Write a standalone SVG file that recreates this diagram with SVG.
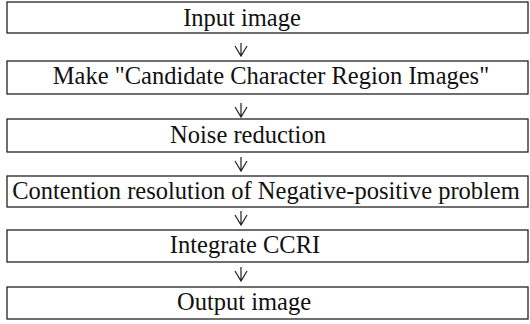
<svg xmlns="http://www.w3.org/2000/svg" width="530" height="324" viewBox="0 0 530 324">
<style>
.box{fill:#fff;stroke:#222;stroke-width:1.3}
.arr{fill:none;stroke:#222;stroke-width:1.2}
text{font-family:"Liberation Serif",serif;font-size:24.5px;fill:#111;text-anchor:middle}
</style>
<rect width="530" height="324" fill="#fff"/>
<g id="connectors">
<path class="arr" d="M241,43V56M235,46L241,56L247,46"/>
<path class="arr" d="M241,103V117M235,107L241,117L247,107"/>
<path class="arr" d="M241,157V171M235,161L241,171L247,161"/>
<path class="arr" d="M241,211V225M235,215L241,225L247,215"/>
<path class="arr" d="M241,267V281M235,271L241,281L247,271"/>
</g>
<g id="n1"><rect class="box" x="7" y="2" width="521" height="31"/><text x="242" y="26">Input image</text></g>
<g id="n2"><rect class="box" x="7" y="61" width="521" height="33"/><text x="271" y="84">Make "Candidate Character Region Images"</text></g>
<g id="n3"><rect class="box" x="7" y="119" width="521" height="33"/><text x="248" y="143">Noise reduction</text></g>
<g id="n4"><rect class="box" x="7" y="176" width="521" height="31"/><text x="266" y="199">Contention resolution of Negative-positive problem</text></g>
<g id="n5"><rect class="box" x="7" y="230" width="521" height="32"/><text x="245" y="253">Integrate CCRI</text></g>
<g id="n6"><rect class="box" x="7" y="287" width="521" height="32"/><text x="244" y="310">Output image</text></g>
</svg>
